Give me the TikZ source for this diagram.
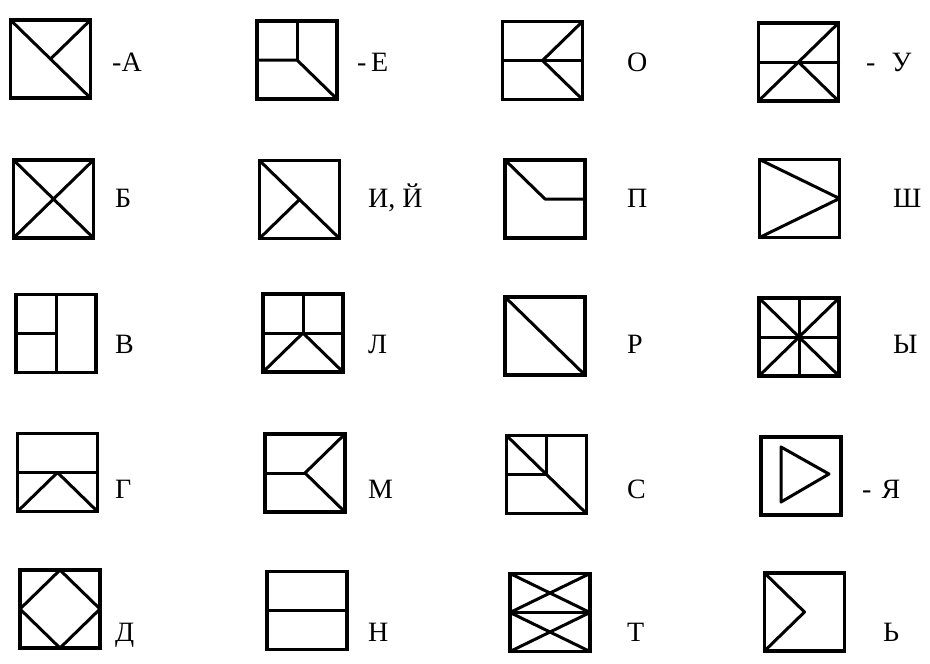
\documentclass[tikz,border=0pt]{standalone}
\usepackage{fontspec}
\setmainfont{Liberation Serif}
\usepackage{tikz}
\usetikzlibrary{calc}
\tikzstyle{glyphbox} = [draw, rectangle, line width=3.5pt, inner sep=0pt, outer sep=0pt, minimum width=80pt, minimum height=78pt]
\tikzstyle{stroke} = [line width=3pt, line cap=round, line join=round]
\tikzstyle{letter} = [anchor=base west, inner sep=0pt, font=\fontsize{28}{32}\selectfont]

\begin{document}
\begin{tikzpicture}[x=1pt, y=-1pt]
    \useasboundingbox (0,0) rectangle (930,664);
    % row 1
    \node [glyphbox] (boxA) at (50.5,59) {};
    \node [glyphbox] (boxIe) at (297,60) {};
    \node [glyphbox] (boxO) at (542.5,60.5) {};
    \node [glyphbox] (boxU) at (798.5,62) {};
    % row 2
    \node [glyphbox] (boxBe) at (53.5,199) {};
    \node [glyphbox] (boxI) at (299.5,199.5) {};
    \node [glyphbox] (boxPe) at (545,199) {};
    \node [glyphbox] (boxSha) at (799.5,198.5) {};
    % row 3
    \node [glyphbox] (boxVe) at (56,333.5) {};
    \node [glyphbox] (boxEl) at (303,333) {};
    \node [glyphbox] (boxEr) at (545,336) {};
    \node [glyphbox] (boxYery) at (799,337) {};
    % row 4
    \node [glyphbox] (boxGe) at (57.5,472.5) {};
    \node [glyphbox] (boxEm) at (305,473) {};
    \node [glyphbox] (boxEs) at (546.5,474.5) {};
    \node [glyphbox] (boxYa) at (801,476) {};
    % row 5
    \node [glyphbox] (boxDe) at (60,609) {};
    \node [glyphbox] (boxEn) at (307,610.5) {};
    \node [glyphbox] (boxTe) at (550,612.5) {};
    \node [glyphbox] (boxSoft) at (804.5,612) {};

    \draw [stroke] (boxA.north west) -- (boxA.south east);
    \draw [stroke] (boxA.north east) -- (boxA.center);
    \draw [stroke] (boxIe.north) -- (boxIe.center);
    \draw [stroke] (boxIe.west) -- (boxIe.center) -- (boxIe.south east);
    \draw [stroke] (boxO.west) -- (boxO.east);
    \draw [stroke] (boxO.north east) -- (boxO.center) -- (boxO.south east);
    \draw [stroke] (boxU.west) -- (boxU.east);
    \draw [stroke] (boxU.south west) -- (boxU.north east);
    \draw [stroke] (boxU.center) -- (boxU.south east);

    \draw [stroke] (boxBe.north west) -- (boxBe.south east);
    \draw [stroke] (boxBe.north east) -- (boxBe.south west);
    \draw [stroke] (boxI.north west) -- (boxI.south east);
    \draw [stroke] (boxI.south west) -- (boxI.center);
    \draw [stroke] (boxPe.north west) -- (boxPe.center) -- (boxPe.east);
    \draw [stroke] (boxSha.north west) -- (boxSha.east) -- (boxSha.south west);

    \draw [stroke] (boxVe.north) -- (boxVe.south);
    \draw [stroke] (boxVe.west) -- (boxVe.center);
    \draw [stroke] (boxEl.west) -- (boxEl.east);
    \draw [stroke] (boxEl.north) -- (boxEl.center);
    \draw [stroke] (boxEl.south west) -- (boxEl.center) -- (boxEl.south east);
    \draw [stroke] (boxEr.north west) -- (boxEr.south east);
    \draw [stroke] (boxYery.north west) -- (boxYery.south east);
    \draw [stroke] (boxYery.north east) -- (boxYery.south west);
    \draw [stroke] (boxYery.west) -- (boxYery.east);
    \draw [stroke] (boxYery.north) -- (boxYery.south);

    \draw [stroke] (boxGe.west) -- (boxGe.east);
    \draw [stroke] (boxGe.south west) -- (boxGe.center) -- (boxGe.south east);
    \draw [stroke] (boxEm.west) -- (boxEm.center);
    \draw [stroke] (boxEm.north east) -- (boxEm.center) -- (boxEm.south east);
    \draw [stroke] (boxEs.north west) -- (boxEs.south east);
    \draw [stroke] (boxEs.north) -- (boxEs.center);
    \draw [stroke] (boxEs.west) -- (boxEs.center);
    \draw [stroke] ($(boxYa.center)+(-20,-29)$) -- ($(boxYa.center)+(-20,26)$) -- ($(boxYa.center)+(28,-2)$) -- cycle;

    \draw [stroke] (boxDe.north) -- (boxDe.west) -- (boxDe.south) -- (boxDe.east) -- cycle;
    \draw [stroke] (boxEn.west) -- (boxEn.east);
    \draw [stroke] (boxTe.west) -- (boxTe.east);
    \draw [stroke] (boxTe.north west) -- (boxTe.east);
    \draw [stroke] (boxTe.north east) -- (boxTe.west);
    \draw [stroke] (boxTe.west) -- (boxTe.south east);
    \draw [stroke] (boxTe.east) -- (boxTe.south west);
    \draw [stroke] (boxSoft.north west) -- (boxSoft.center) -- (boxSoft.south west);

    % letters
    \node [letter] (lblA) at (112,71) {-А};
    \node [letter] (lblIe) at (357,71) {-\,Е};
    \node [letter] (lblO) at (627,71) {О};
    \node [letter] (lblU) at (866,71) {-\hspace{16pt}У};
    \node [letter] (lblBe) at (115,207) {Б};
    \node [letter] (lblI) at (368,207) {И, Й};
    \node [letter] (lblPe) at (627,207) {П};
    \node [letter] (lblSha) at (893,207) {Ш};
    \node [letter] (lblVe) at (115,353) {В};
    \node [letter] (lblEl) at (368,353) {Л};
    \node [letter] (lblEr) at (627,353) {Р};
    \node [letter] (lblYery) at (893,353) {Ы};
    \node [letter] (lblGe) at (115,498) {Г};
    \node [letter] (lblEm) at (368,498) {М};
    \node [letter] (lblEs) at (627,498) {С};
    \node [letter] (lblYa) at (862,498) {-\hspace{10pt}Я};
    \node [letter] (lblDe) at (115,641) {Д};
    \node [letter] (lblEn) at (368,641) {Н};
    \node [letter] (lblTe) at (627,641) {Т};
    \node [letter] (lblSoft) at (883,641) {Ь};
\end{tikzpicture}
\end{document}
